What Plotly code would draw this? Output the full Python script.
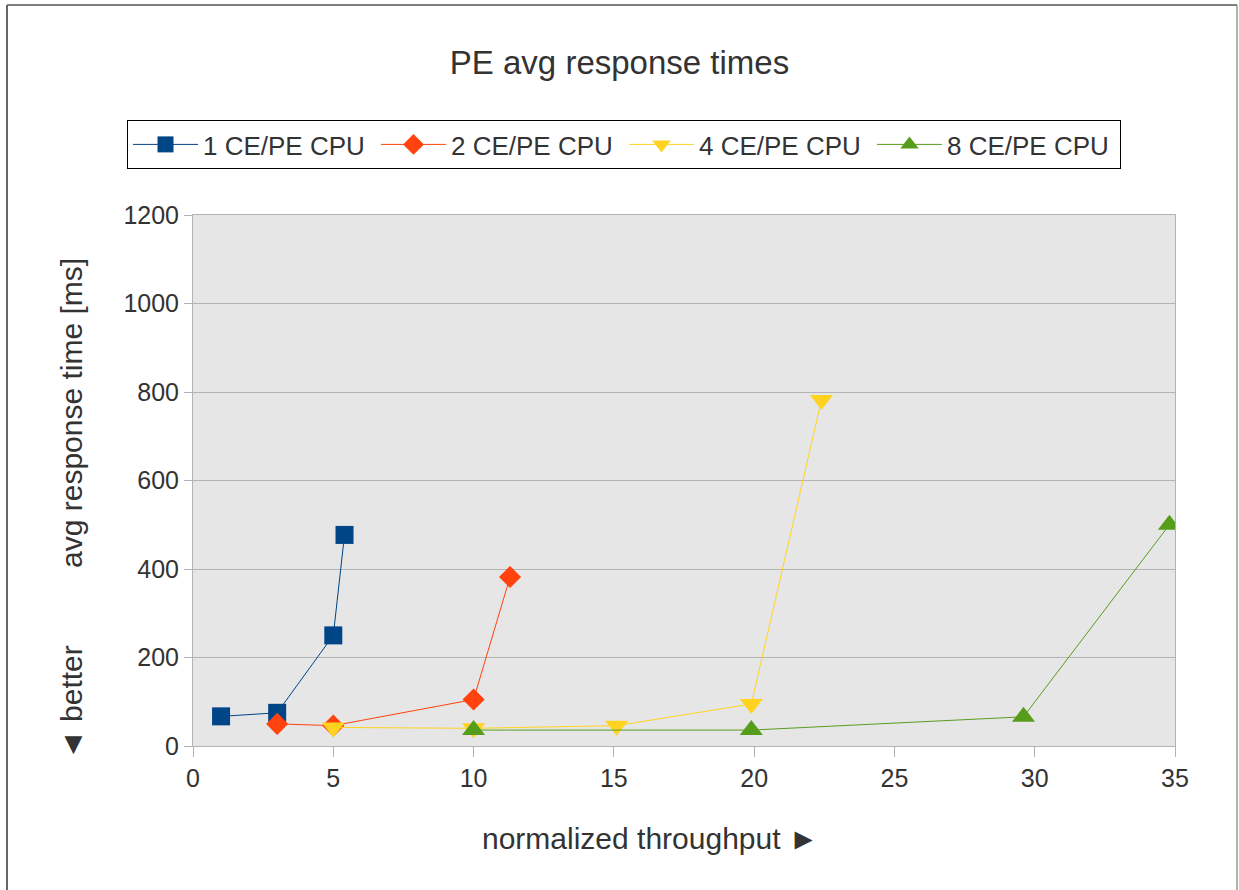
import plotly.graph_objects as go

W, H = 1239, 890
L, R, T, B = 193, 64, 215, 144
PW, PH = W - L - R, H - T - B

series_names = ["1 CE/PE CPU", "2 CE/PE CPU", "4 CE/PE CPU", "8 CE/PE CPU"]
x1 = [1.0, 3.0, 5.0, 5.4]
y1 = [67, 75, 250, 477]
x2 = [3.0, 5.0, 10.0, 11.3]
y2 = [50, 46, 105, 382]
x4 = [5.0, 10.0, 15.1, 19.9, 22.4]
y4 = [42, 40, 46, 95, 782]
x8 = [10.0, 19.9, 29.6, 34.8]
y8 = [36, 36, 66, 500]

colors = ["#004586", "#ff420e", "#ffd320", "#579d1c"]
symbols = ["square", "diamond", "triangle-down", "triangle-up"]
sizes = [18, 17, 20, 20]

FONT = "Liberation Sans"
fig = go.Figure()
for name, xs, ys, c, s, sz in zip(series_names, [x1, x2, x4, x8], [y1, y2, y4, y8], colors, symbols, sizes):
    fig.add_trace(go.Scatter(x=xs, y=ys, name=name, mode="lines+markers",
                             line=dict(color=c, width=1),
                             marker=dict(symbol=s, size=sz, color=c, line=dict(width=0))))

def px_x(p):
    return (p - L) / PW

def px_y(p):
    return (H - B - p) / PH

fig.update_layout(
    width=W, height=H,
    margin=dict(l=L, r=R, t=T, b=B),
    paper_bgcolor="white", plot_bgcolor="#e6e6e6",
    font=dict(family=FONT, color="#333333"),
    title=dict(text="PE avg response times", x=0.5, xref="container", xanchor="center",
               y=1 - 62 / H, yanchor="middle", font=dict(size=33, color="#333333")),
    showlegend=True,
    legend=dict(orientation="h", x=px_x(127), y=px_y(120), xanchor="left", yanchor="top",
                bordercolor="#000000", borderwidth=1, bgcolor="white",
                font=dict(size=26, color="#333333"), itemwidth=65, entrywidth=168,
                itemclick=False),
    xaxis=dict(range=[0, 35], tickvals=[0, 5, 10, 15, 20, 25, 30, 35], showgrid=False,
               showline=True, linecolor="#b3b3b3", linewidth=1, mirror=True,
               ticks="outside", ticklen=10, tickcolor="#b3b3b3",
               tickfont=dict(size=25, color="#333333"), zeroline=False),
    yaxis=dict(range=[0, 1200], tickvals=[0, 200, 400, 600, 800, 1000, 1200], showgrid=True,
               gridcolor="#b3b3b3", gridwidth=1,
               showline=True, linecolor="#b3b3b3", linewidth=1, mirror=True,
               ticks="outside", ticklen=8, tickcolor="#b3b3b3",
               tickfont=dict(size=25, color="#333333"), zeroline=False),
)

fig.add_annotation(text="normalized throughput ►", xref="paper", yref="paper",
                   x=px_x(650), y=px_y(838), xanchor="center", yanchor="middle", showarrow=False,
                   font=dict(size=30, color="#333333"))
fig.add_annotation(text="avg response time [ms]", textangle=-90, xref="paper", yref="paper",
                   x=px_x(71), y=px_y(413), xanchor="center", yanchor="middle", showarrow=False,
                   font=dict(size=30, color="#333333"))
fig.add_annotation(text="◄ better", textangle=-90, xref="paper", yref="paper",
                   x=px_x(71), y=px_y(703), xanchor="center", yanchor="middle", showarrow=False,
                   font=dict(size=30, color="#333333"))

# outer frame
fig.add_shape(type="line", xref="paper", yref="paper", x0=px_x(7), x1=px_x(1237), y0=px_y(5), y1=px_y(5),
              line=dict(color="#000000", width=1))
fig.add_shape(type="line", xref="paper", yref="paper", x0=px_x(7), x1=px_x(7), y0=px_y(5), y1=px_y(H),
              line=dict(color="#666666", width=2))
fig.add_shape(type="line", xref="paper", yref="paper", x0=px_x(1237), x1=px_x(1237), y0=px_y(5), y1=px_y(H),
              line=dict(color="#666666", width=1))

fig.write_html("out.html", config={"displayModeBar": False},
               post_script="document.body.style.margin='0';document.body.style.overflow='hidden';")
